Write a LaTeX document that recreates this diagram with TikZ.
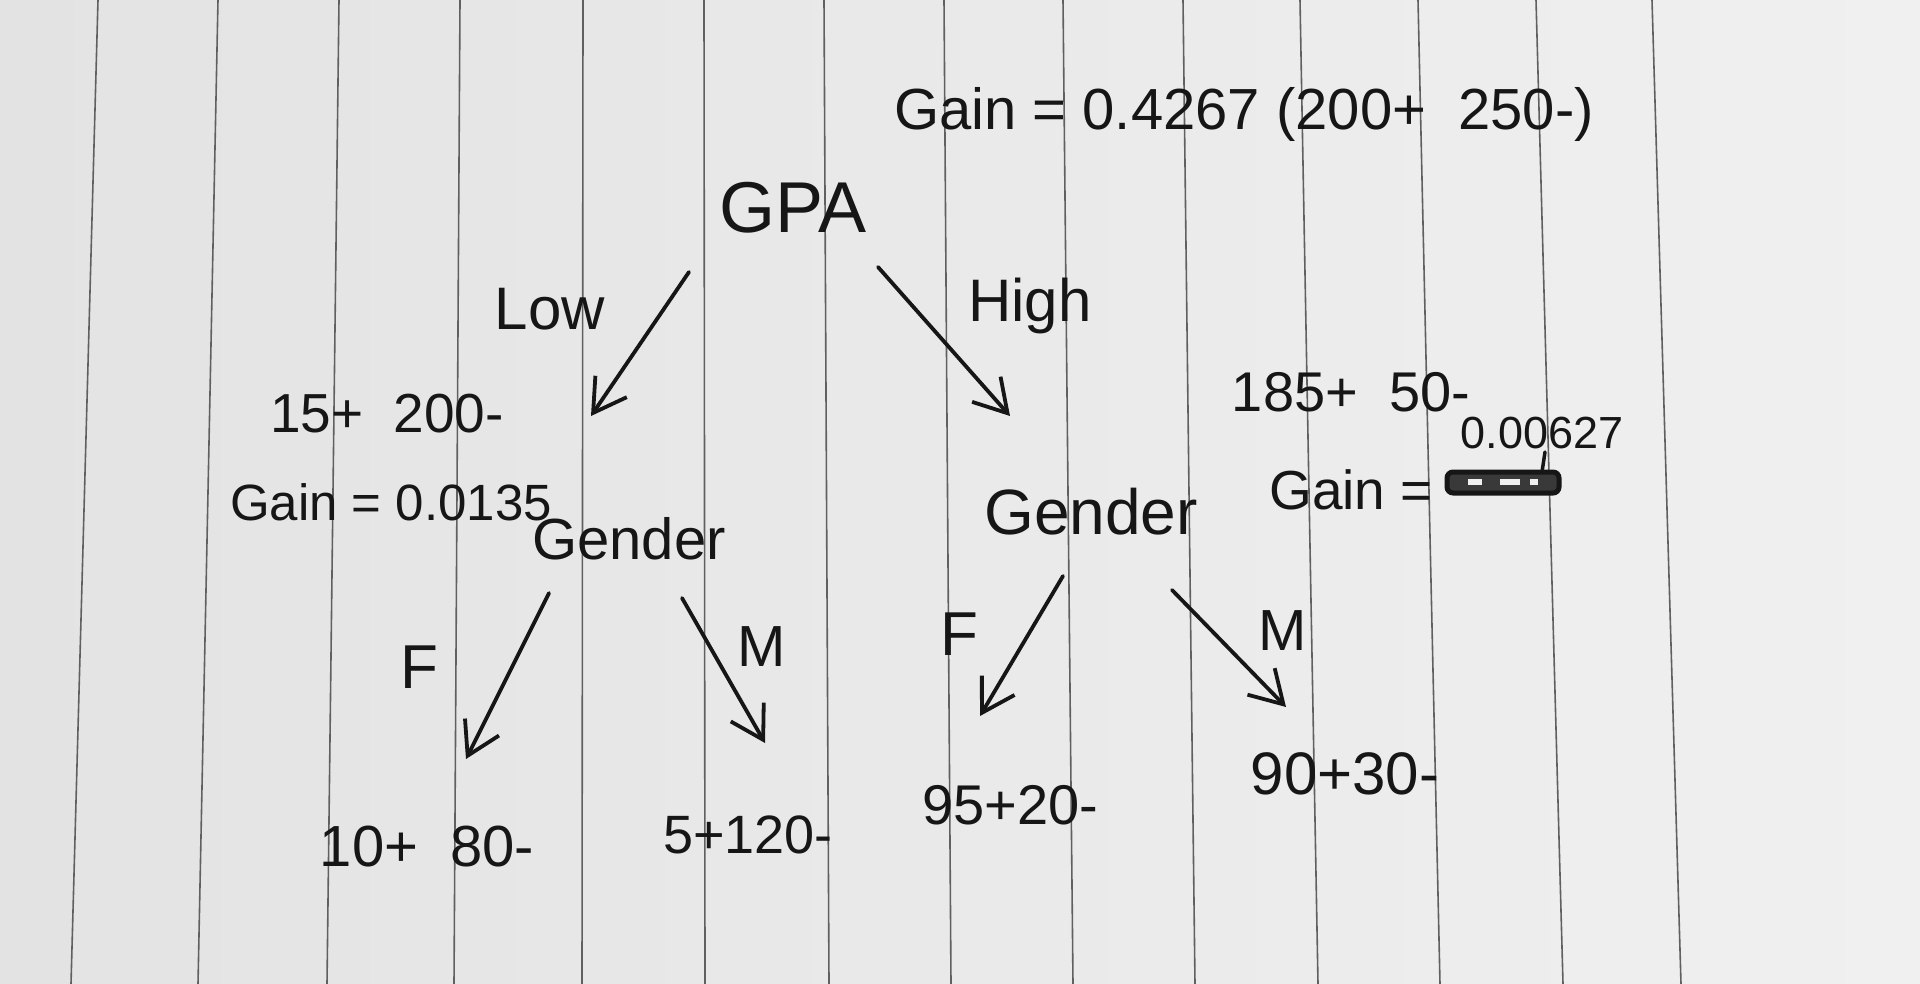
\documentclass[tikz,border=0pt]{standalone}
\usepackage{fontspec}
\setmainfont{Liberation Sans}
\usetikzlibrary{arrows.meta}
\definecolor{ink}{HTML}{161616}
\definecolor{paperL}{HTML}{E3E3E3}
\definecolor{paperR}{HTML}{F0F0F0}
\definecolor{rule}{HTML}{606060}
\newcommand{\fs}[1]{\fontsize{#1}{#1}\selectfont}
\tikzset{
  lbl/.style={inner sep=0pt, text=ink, anchor=center},
  arr/.style={draw=ink, line width=3.8pt, line cap=round,
    -{Straight Barb[length=32pt, width=38pt, line width=3.8pt]}},
  paperline/.style={draw=rule, line width=1.6pt}
}
\begin{document}
\begin{tikzpicture}[x=1pt, y=-1pt]
\useasboundingbox (0,0) rectangle (1920,984);
\shade[left color=paperL, right color=paperR] (0,0) rectangle (1920,984);
% ruled lines of the paper
\foreach \a/\b in {98/71, 218/198, 339/327, 460/454, 583/582, 704/705, 824/829, 944/951, 1063/1073, 1183/1195, 1300/1318, 1418/1440, 1536/1563, 1652/1681}
  \draw[paperline] (\a,0) -- (\b,984);

% texts
\node[lbl, font=\fs{58}] (gain0) at (1244,114) {Gain = 0.4267 (200+\ \ 250-)};
\node[lbl, font=\fs{72}] (gpa) at (793,208) {GPA};
\node[lbl, font=\fs{60}] (low) at (550,309) {Low};
\node[lbl, font=\fs{60}] (high) at (1030,306) {High};
\node[lbl, font=\fs{55}] (n15) at (387,414) {15+\ \ 200-};
\node[lbl, font=\fs{51}] (gainL) at (391,502) {Gain = 0.0135};
\node[lbl, font=\fs{58}] (genderL) at (629,539) {Gender};
\node[lbl, font=\fs{64}] (genderR) at (1091,512) {Gender};
\node[lbl, font=\fs{56}] (n185) at (1351,392) {185+\ \ 50-};
\node[lbl, font=\fs{55}] (gainR) at (1351,490) {Gain =};
\node[lbl, font=\fs{45}] (valR) at (1542,433) {0.00627};
% crossed-out value
\coordinate (scrA) at (1447,472);
\coordinate (scrB) at (1559,493);
\draw[draw=ink, fill=ink!85, line width=5pt, rounded corners=6pt] (scrA) rectangle (scrB);
\fill[paperR] (1468,479) rectangle (1482,485);
\fill[paperR] (1500,479) rectangle (1520,485);
\fill[paperR] (1530,479) rectangle (1538,485);
\draw[ink, line width=3.5pt, line cap=round] (1542,472) -- (1545,452);

\node[lbl, font=\fs{62}] (fL) at (419,667) {F};
\node[lbl, font=\fs{58}] (mL) at (762,647) {M};
\node[lbl, font=\fs{62}] (fR) at (959,634) {F};
\node[lbl, font=\fs{58}] (mR) at (1283,631) {M};

\node[lbl, font=\fs{58}] (leaf1) at (427,847) {10+\ \ 80-};
\node[lbl, font=\fs{54}] (leaf2) at (748,835) {5+120-};
\node[lbl, font=\fs{56}] (leaf3) at (1010,805) {95+20-};
\node[lbl, font=\fs{60}] (leaf4) at (1345,774) {90+30-};

% arrow end points
\coordinate (lowS) at (689,272);  \coordinate (lowE) at (591,416);
\coordinate (highS) at (878,267); \coordinate (highE) at (1010,416);
\coordinate (lfS) at (549,593);   \coordinate (lfE) at (466,759);
\coordinate (lmS) at (682,598);   \coordinate (lmE) at (765,743);
\coordinate (rfS) at (1063,576);  \coordinate (rfE) at (980,716);
\coordinate (rmS) at (1172,590);  \coordinate (rmE) at (1286,707);

\draw[arr] (lowS) -- (lowE);
\draw[arr] (highS) -- (highE);
\draw[arr] (lfS) -- (lfE);
\draw[arr] (lmS) -- (lmE);
\draw[arr] (rfS) -- (rfE);
\draw[arr] (rmS) -- (rmE);
\end{tikzpicture}
\end{document}
